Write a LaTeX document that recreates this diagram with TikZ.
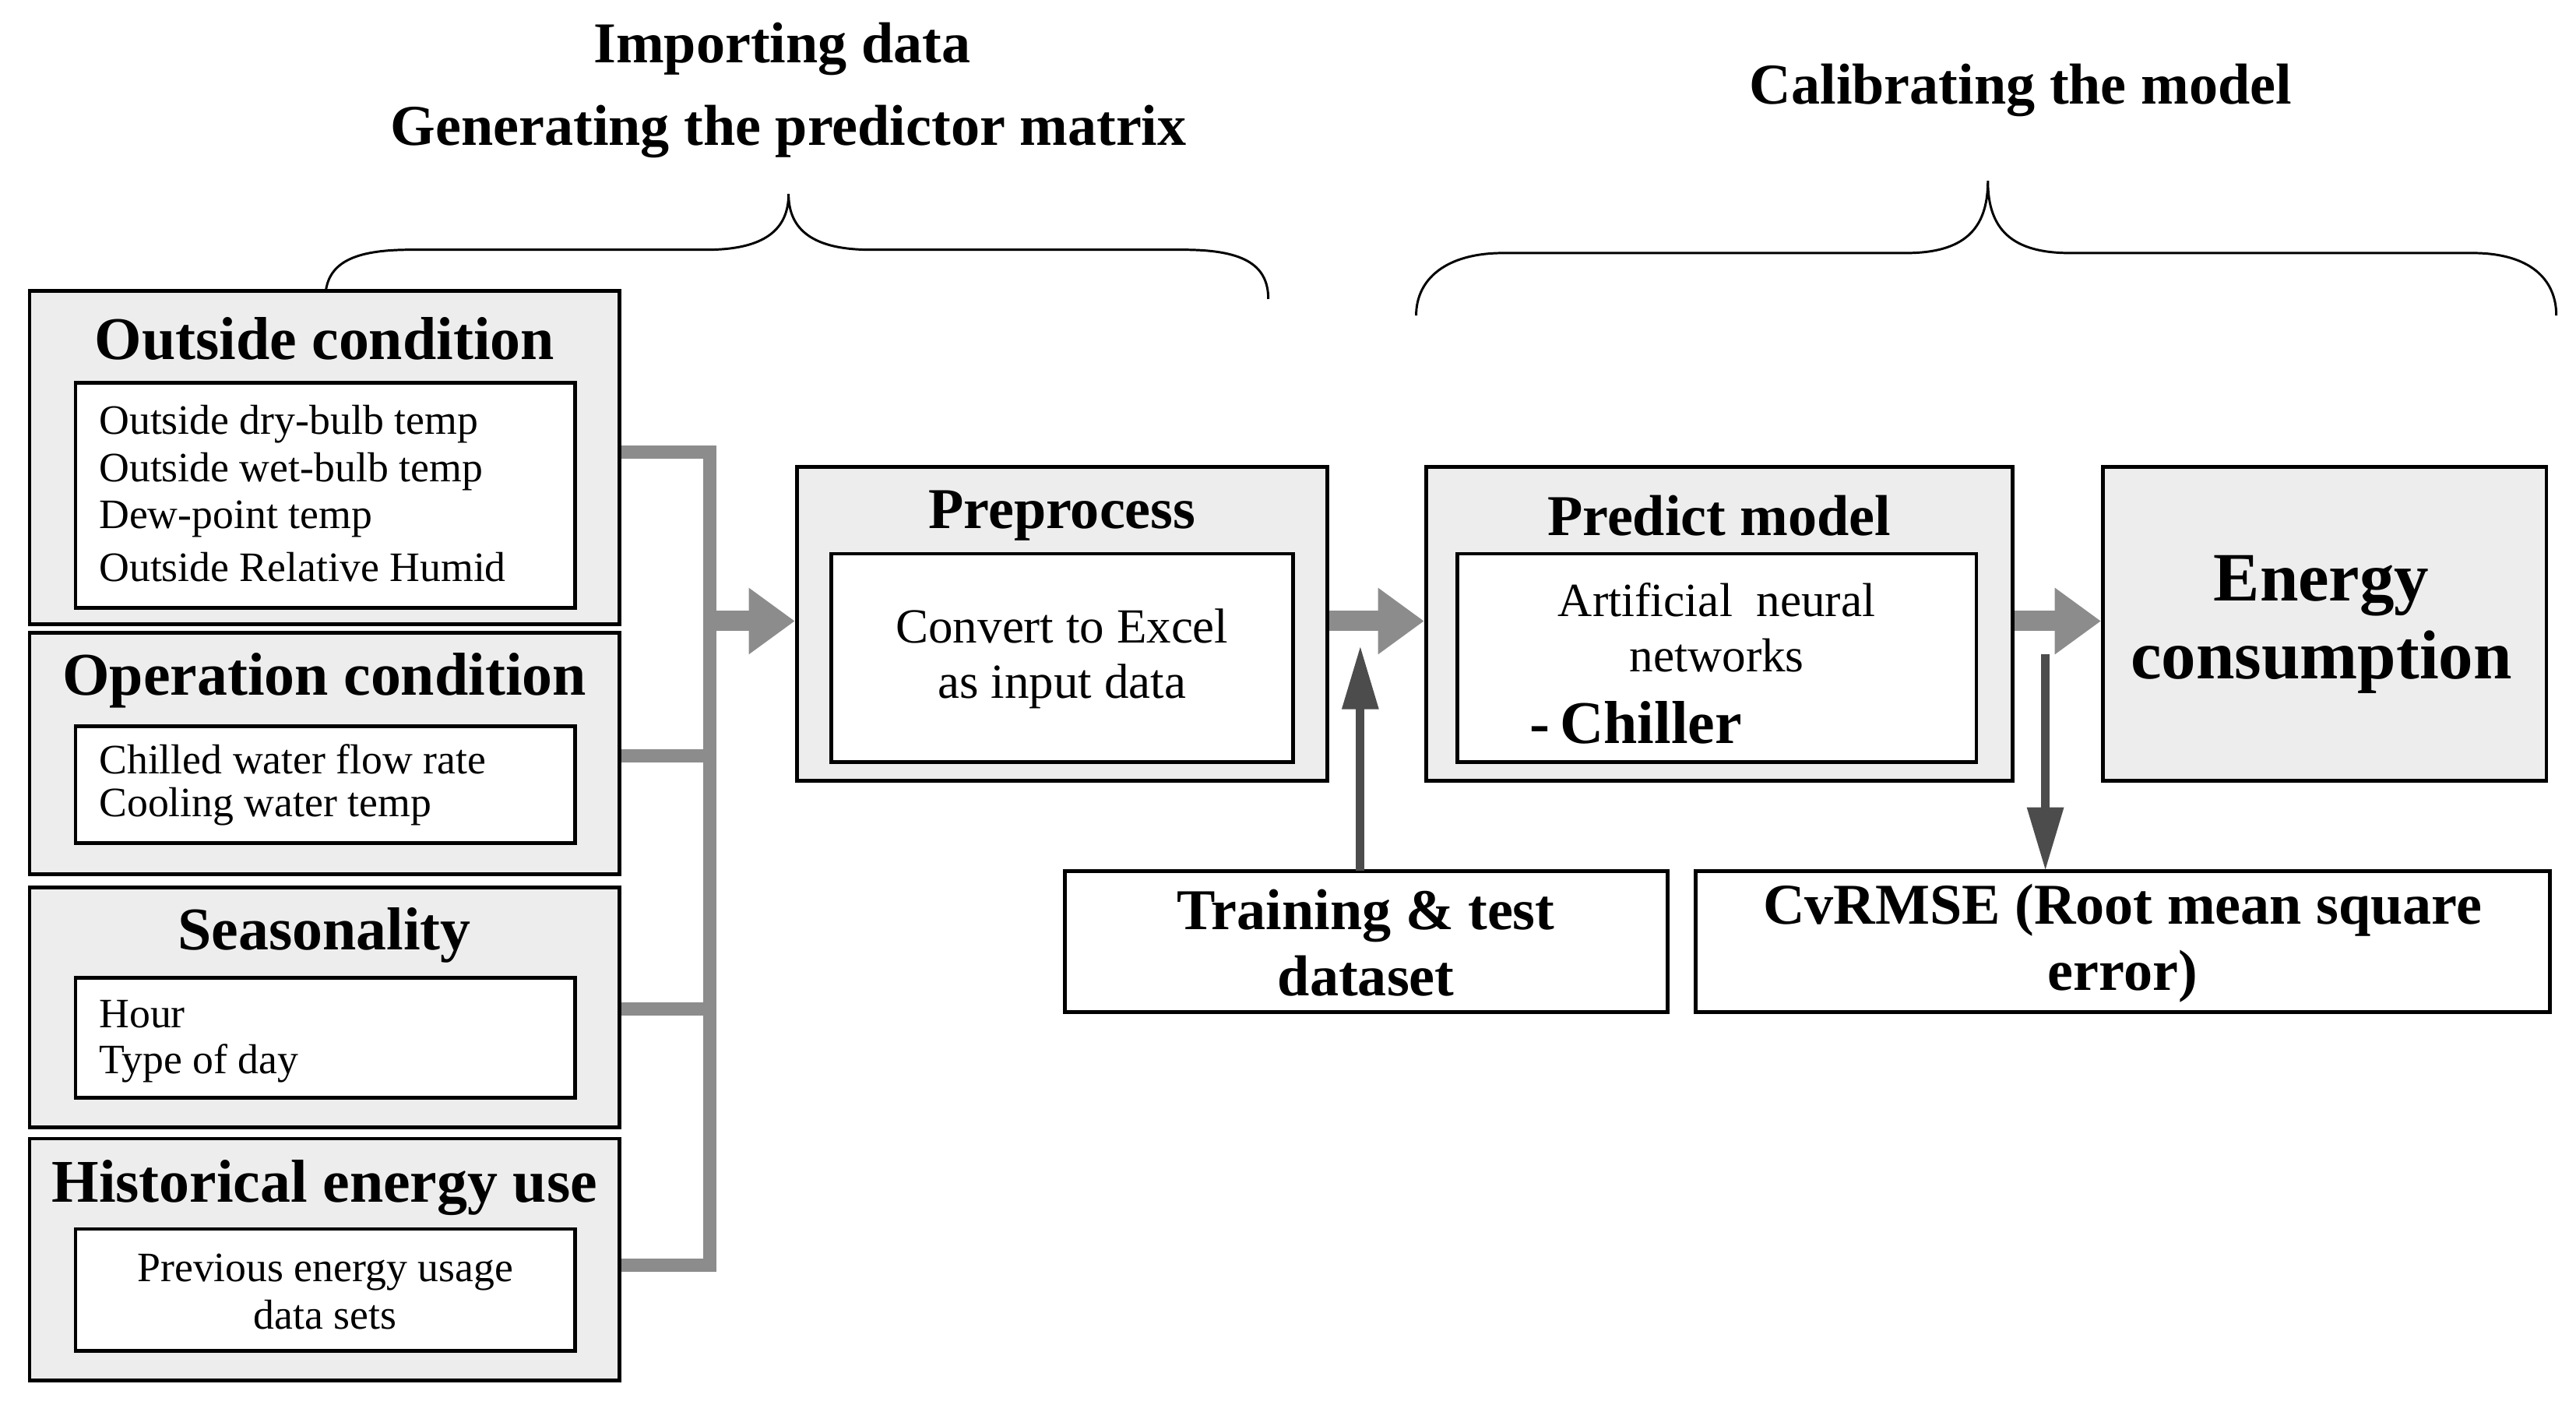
\documentclass[tikz,border=0pt]{standalone}
\usepackage{fontspec}
\setmainfont{Liberation Serif}
\usetikzlibrary{arrows.meta}
\begin{document}
\begin{tikzpicture}[x=0.02cm,y=-0.02cm,
 outer/.style={draw,line width=1.3pt,fill=black!7,inner sep=0pt},
 inner/.style={draw,line width=1.3pt,fill=white,inner sep=0pt},
 ttl/.style={font=\fontsize{20}{22}\selectfont\bfseries},
 txt/.style={font=\fontsize{14.5}{16.5}\selectfont,anchor=west,inner sep=0pt},
 bus/.style={line width=4.5pt,draw=black!45},
 garrow/.style={line width=7pt,draw=black!45,-{Triangle[length=16pt,width=22pt]}},
 darrow/.style={line width=3pt,draw=black!70,-{Triangle[length=22pt,width=12pt]}},
 brace/.style={line width=0.8pt}]
\useasboundingbox (0,0) rectangle (1568,855);
% titles
\node[ttl] (t1) at (476,30) {Importing data};
\node[ttl] (t2) at (480,80) {Generating the predictor matrix};
\node[ttl] (t3) at (1230,55) {Calibrating the model};
% braces
\draw[brace] (198,182) .. controls (198,160) and (215,152) .. (250,152) -- (430,152) .. controls (465,152) and (480,140) .. (480,118)
 .. controls (480,140) and (495,152) .. (530,152) -- (720,152) .. controls (755,152) and (772,160) .. (772,182);
\draw[brace] (862,192) .. controls (862,170) and (880,154) .. (915,154) -- (1160,154) .. controls (1195,154) and (1210,140) .. (1210,110)
 .. controls (1210,140) and (1225,154) .. (1260,154) -- (1505,154) .. controls (1540,154) and (1556,170) .. (1556,192);
% bus
\draw[bus] (377,275) -- (432,275) -- (432,770) -- (377,770);
\draw[bus] (377,460) -- (432,460);
\draw[bus] (377,614) -- (432,614);
% left boxes
\node[outer,minimum width=359*0.02cm,minimum height=203*0.02cm] (oc) at (197.5,278.5) {};
\node[ttl,font=\fontsize{21}{22}\selectfont\bfseries] (oct) at (197.5,206) {Outside condition};
\node[inner,minimum width=304*0.02cm,minimum height=137*0.02cm] (oci) at (198,301.5) {};
\node[txt] (l1) at (60,258) {Outside dry-bulb temp};
\node[txt] (l2) at (60,287) {Outside wet-bulb temp};
\node[txt] (l3) at (60,316) {Dew-point temp};
\node[txt] (l4) at (60,345) {Outside Relative Humid};

\node[outer,minimum width=359*0.02cm,minimum height=147*0.02cm] (op) at (197.5,458.5) {};
\node[ttl,font=\fontsize{21}{22}\selectfont\bfseries] (opt) at (197.5,414) {Operation condition};
\node[inner,minimum width=304*0.02cm,minimum height=71*0.02cm] (opi) at (198,477.5) {};
\node[txt] (l5) at (60,462) {Chilled water flow rate};
\node[txt] (l6) at (60,491) {Cooling water temp};

\node[outer,minimum width=359*0.02cm,minimum height=146*0.02cm] (se) at (197.5,613) {};
\node[ttl,font=\fontsize{21}{22}\selectfont\bfseries] (set) at (197.5,569) {Seasonality};
\node[inner,minimum width=304*0.02cm,minimum height=73*0.02cm] (sei) at (198,631.5) {};
\node[txt] (l7) at (60,617) {Hour};
\node[txt] (l8) at (60,647) {Type of day};

\node[outer,minimum width=359*0.02cm,minimum height=147*0.02cm] (he) at (197.5,766.5) {};
\node[ttl,font=\fontsize{21}{22}\selectfont\bfseries] (het) at (197.5,723) {Historical energy use};
\node[inner,minimum width=304*0.02cm,minimum height=74*0.02cm] (hei) at (198,785) {};
\node[txt,anchor=center,align=center] (l9) at (198,786) {Previous energy usage\\data sets};

% preprocess
\node[outer,minimum width=323*0.02cm,minimum height=191*0.02cm] (pp) at (646.5,379.5) {};
\node[ttl] (ppt) at (646.5,314) {Preprocess};
\node[inner,minimum width=281*0.02cm,minimum height=127*0.02cm] (ppi) at (646.5,400.5) {};
\node[font=\fontsize{17}{19}\selectfont,align=center] (ppx) at (646.5,401) {Convert to Excel\\as input data};

% predict
\node[outer,minimum width=357*0.02cm,minimum height=191*0.02cm] (pm) at (1046.5,379.5) {};
\node[ttl] (pmt) at (1046.5,314) {Predict model};
\node[inner,minimum width=316*0.02cm,minimum height=127*0.02cm] (pmi) at (1045,400.5) {};
\node[font=\fontsize{16.5}{19}\selectfont,align=center] (pmx) at (1045,382) {Artificial\ \ neural\\networks};
\node[font=\fontsize{21}{22}\selectfont\bfseries,anchor=west] (pmc) at (925,440) {-\,Chiller};

% energy
\node[outer,minimum width=270*0.02cm,minimum height=191*0.02cm] (en) at (1415,379.5) {};
\node[font=\fontsize{24}{27}\selectfont\bfseries,align=center] (ent) at (1413,380) {Energy\\consumption};

% bottom boxes
\node[draw,line width=1.3pt,fill=white,minimum width=367*0.02cm,minimum height=86*0.02cm,inner sep=0pt] (tr) at (831.5,573) {};
\node[font=\fontsize{20}{23}\selectfont\bfseries,align=center] (trt) at (831.5,574) {Training \& test\\dataset};
\node[draw,line width=1.3pt,fill=white,minimum width=520*0.02cm,minimum height=86*0.02cm,inner sep=0pt] (cv) at (1292,573) {};
\node[font=\fontsize{20}{23}\selectfont\bfseries,align=center] (cvt) at (1292,574) {CvRMSE (Root mean square\\error)};

% arrows
\coordinate (b1) at (430,378);
\draw[garrow] (b1) -- (pp.west|-b1);
\draw[garrow] (pp.east|-b1) -- (pm.west|-b1);
\draw[garrow] (pm.east|-b1) -- (en.west|-b1);
\coordinate (u1) at (828,530);
\coordinate (u2) at (828,393);
\draw[darrow] (u1) -- (u2);
\coordinate (d1) at (1245,398);
\coordinate (d2) at (1245,530);
\draw[darrow] (d1) -- (d2);
\end{tikzpicture}
\end{document}
